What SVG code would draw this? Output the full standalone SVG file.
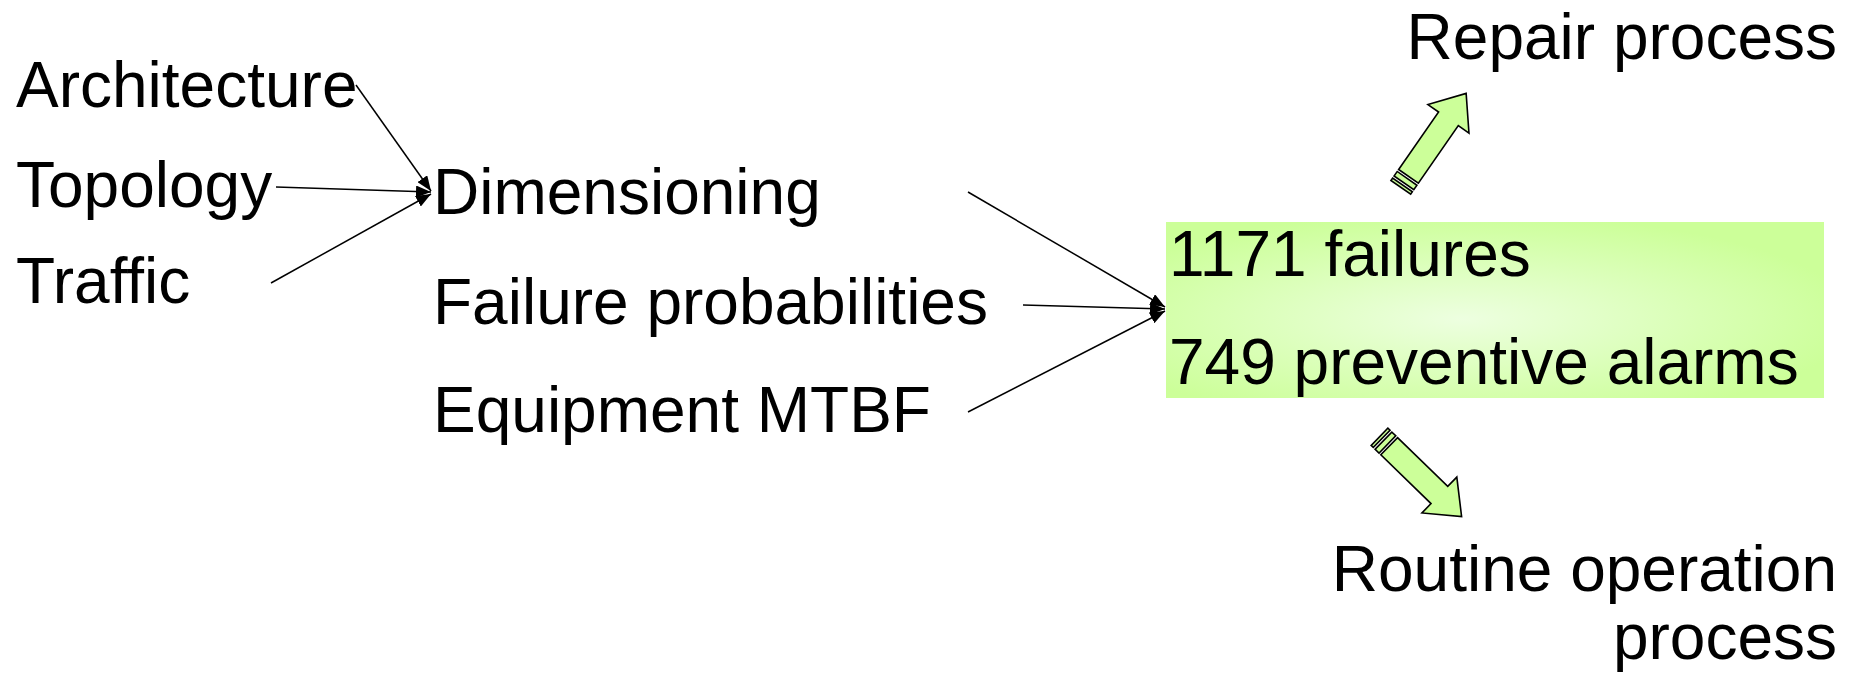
<svg xmlns="http://www.w3.org/2000/svg" width="1861" height="673" viewBox="0 0 1861 673">
  <style>
    text { font-family: "Liberation Sans", Arial, sans-serif; font-size: 64px; fill: #000; }
    .end { text-anchor: end; }
    .link { stroke: #000; stroke-width: 1.5; fill: none; marker-end: url(#head); }
    .block { fill: #ccff99; stroke: #000; stroke-width: 1.6; stroke-linejoin: miter; }
  </style>
  <defs>
    <marker id="head" markerUnits="userSpaceOnUse" markerWidth="16" markerHeight="12" refX="15" refY="6" orient="auto">
      <path d="M0,0 L15,6 L0,12 Z" fill="#000"/>
    </marker>
    <radialGradient id="glow" cx="0.45" cy="0.55" r="0.6">
      <stop offset="0" stop-color="#edffe0"/>
      <stop offset="1" stop-color="#ccff99"/>
    </radialGradient>
    <!-- striped block arrow pointing along +x, tail centre at origin -->
    <g id="striped">
      <path class="block" d="M0,-12 L70,-12 L70,-25 L101,0 L70,25 L70,12 L0,12 Z"/>
      <rect class="block" x="-8" y="-12" width="5.5" height="24"/>
      <rect class="block" x="-13.5" y="-12" width="3" height="24"/>
    </g>
  </defs>

  <!-- connectors -->
  <g id="connectors">
    <line class="link" x1="356" y1="85" x2="431" y2="191"/>
    <line class="link" x1="276" y1="187" x2="431" y2="192"/>
    <line class="link" x1="271" y1="283" x2="431" y2="194"/>
    <line class="link" x1="968" y1="192" x2="1165" y2="307"/>
    <line class="link" x1="1023" y1="305" x2="1165" y2="309"/>
    <line class="link" x1="968" y1="412" x2="1165" y2="311"/>
  </g>

  <g id="architecture"><text x="16" y="107">Architecture</text></g>
  <g id="topology"><text x="16" y="207">Topology</text></g>
  <g id="traffic"><text x="16" y="303">Traffic</text></g>

  <g id="dimensioning"><text x="433" y="214">Dimensioning</text></g>
  <g id="failure-probabilities"><text x="433" y="324">Failure probabilities</text></g>
  <g id="equipment-mtbf"><text x="433" y="432">Equipment MTBF</text></g>

  <g id="outcome">
    <rect x="1166" y="222" width="658" height="176" fill="url(#glow)"/>
    <text x="1169" y="276">1171 failures</text>
    <text x="1169" y="384">749 preventive alarms</text>
  </g>

  <g id="to-repair">
    <use href="#striped" transform="translate(1408.5,176.3) rotate(-55.2)"/>
  </g>
  <g id="repair-process"><text class="end" x="1837" y="59">Repair process</text></g>

  <g id="to-routine">
    <use href="#striped" transform="translate(1389.2,446.2) rotate(44.2)"/>
  </g>
  <g id="routine-operation-process">
    <text class="end" x="1837" y="591">Routine operation</text>
    <text class="end" x="1837" y="659">process</text>
  </g>
</svg>
